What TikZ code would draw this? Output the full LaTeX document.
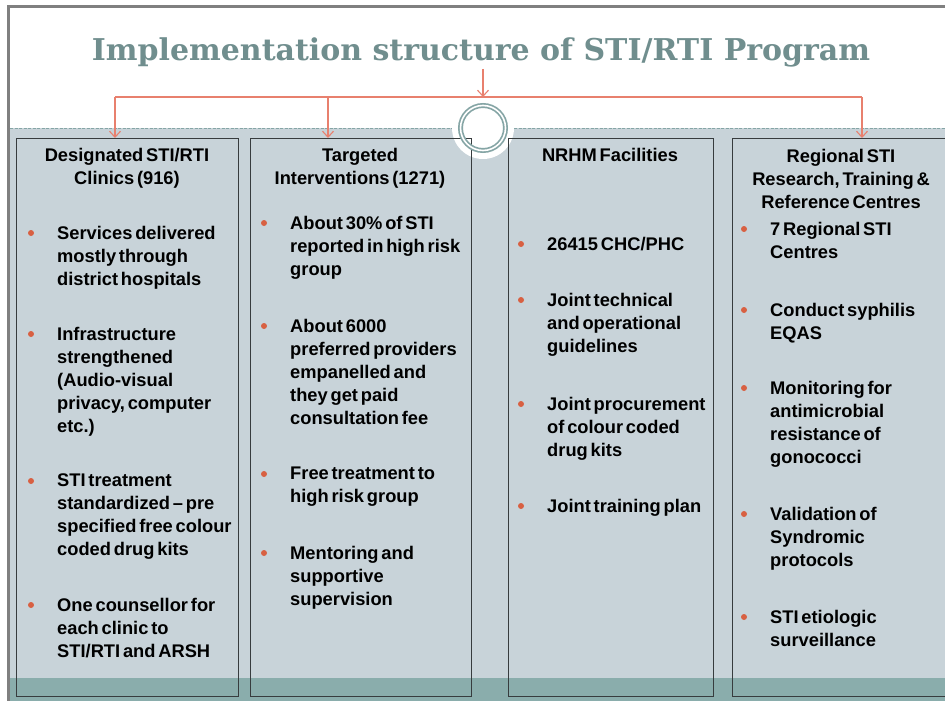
\documentclass[tikz,border=0pt]{standalone}
\usepackage{fontspec}
\setmainfont[WordSpace=0.55]{Liberation Sans}
\newfontfamily\titleserif{DejaVu Serif}
\usepackage{tikz}
\usetikzlibrary{arrows.meta}

\definecolor{panelgray}{RGB}{200,211,217}
\definecolor{bandteal}{RGB}{138,173,172}
\definecolor{framegray}{RGB}{128,128,128}
\definecolor{boxline}{RGB}{55,60,62}
\definecolor{wirered}{RGB}{232,128,110}
\definecolor{dotred}{RGB}{216,96,66}
\definecolor{ringteal}{RGB}{133,165,165}
\definecolor{titleteal}{RGB}{112,142,142}

\tikzset{
  colbox/.style={draw=boxline,line width=1.1pt,anchor=north west,inner sep=0pt},
  headtext/.style={anchor=north,align=center,inner sep=0pt,
    font=\bfseries\fontsize{18.3pt}{23pt}\selectfont},
  itemtext/.style={anchor=north west,align=left,inner sep=0pt,
    font=\bfseries\fontsize{18.3pt}{23pt}\selectfont},
  wire/.style={draw=wirered,line width=1.2pt},
  feed/.style={wire,-{Straight Barb[length=6pt,width=11pt,line width=1.1pt]}},
  hubring/.style={circle,draw=ringteal,line width=1.7pt,double=white,
    double distance=1.6pt,minimum size=45pt,inner sep=0pt}
}

\newcommand{\stiitem}[4]{%
  \fill[dotred] (#2-26,#3) circle (3pt);
  \node[itemtext] (#1) at (#2,#3-7) {#4};}

\begin{document}
\begin{tikzpicture}[x=1pt,y=-1pt]
\clip (0,0) rectangle (945,701);
\fill[white] (0,0) rectangle (945,701);
\fill[panelgray] (10,128) rectangle (945,701);
\fill[bandteal] (10,678) rectangle (945,701);
\fill[framegray] (7,5) rectangle (945,8);
\fill[framegray] (7,5) rectangle (10,701);
\draw[ringteal,line width=0.6pt,dash pattern=on 3pt off 1.5pt] (10,128) -- (945,128);
\fill[white] (483,128) circle (31pt);

\node [font=\titleserif\bfseries\fontsize{30pt}{34pt}\selectfont,text=titleteal,anchor=base,inner sep=2pt] (title) at (481,60) {Implementation structure of STI/RTI Program};

\node [colbox,minimum width=222pt,minimum height=558pt] (clinics) at (16,138) {};
\node [colbox,minimum width=221pt,minimum height=558pt] (targeted) at (250,138) {};
\node [colbox,minimum width=205pt,minimum height=558pt] (nrhm) at (508,138) {};
\node [colbox,minimum width=218pt,minimum height=558pt] (regional) at (732,138) {};

\node [hubring] (hub) at (483,128) {};

\coordinate (busmid) at (483,97);
\coordinate (busleft) at (115,97);
\coordinate (bustwo) at (328,97);
\coordinate (busright) at (862,97);
\draw[feed] (busmid |- title.south) -- (busmid);
\draw[wire] (busleft) -- (busright);
\draw[feed] (busleft) -- (busleft |- clinics.north);
\draw[feed] (bustwo) -- (bustwo |- targeted.north);
\draw[feed] (busright) -- (busright |- regional.north);

\node [headtext] (clinicshead) at (127,148) {Designated STI/RTI\\Clinics (916)};
\node [headtext] (targetedhead) at (360,148) {Targeted\\Interventions (1271)};
\node [headtext] (nrhmhead) at (610,148) {NRHM Facilities};
\node [headtext] (regionalhead) at (841,149) {Regional STI\\Research, Training \&\\Reference Centres};

\stiitem{cA}{57}{233}{Services delivered\\mostly through\\district hospitals}
\stiitem{cB}{57}{334}{Infrastructure\\strengthened\\(Audio-visual\\privacy, computer\\etc.)}
\stiitem{cC}{57}{481}{STI treatment\\standardized -- pre\\specified free colour\\coded drug kits}
\stiitem{cD}{57}{605}{One counsellor for\\each clinic to\\STI/RTI and ARSH}

\stiitem{tA}{290}{223}{About 30\% of STI\\reported in high risk\\group}
\stiitem{tB}{290}{326}{About 6000\\preferred providers\\empanelled and\\they get paid\\consultation fee}
\stiitem{tC}{290}{474}{Free treatment to\\high risk group}
\stiitem{tD}{290}{553}{Mentoring and\\supportive\\supervision}

\stiitem{nA}{547}{244}{26415 CHC/PHC}
\stiitem{nB}{547}{300}{Joint technical\\and operational\\guidelines}
\stiitem{nC}{547}{404}{Joint procurement\\of colour coded\\drug kits}
\stiitem{nD}{547}{506}{Joint training plan}

\stiitem{rA}{770}{229}{7 Regional STI\\Centres}
\stiitem{rB}{770}{310}{Conduct syphilis\\EQAS}
\stiitem{rC}{770}{388}{Monitoring for\\antimicrobial\\resistance of\\gonococci}
\stiitem{rD}{770}{514}{Validation of\\Syndromic\\protocols}
\stiitem{rE}{770}{617}{STI etiologic\\surveillance}
\end{tikzpicture}
\end{document}
